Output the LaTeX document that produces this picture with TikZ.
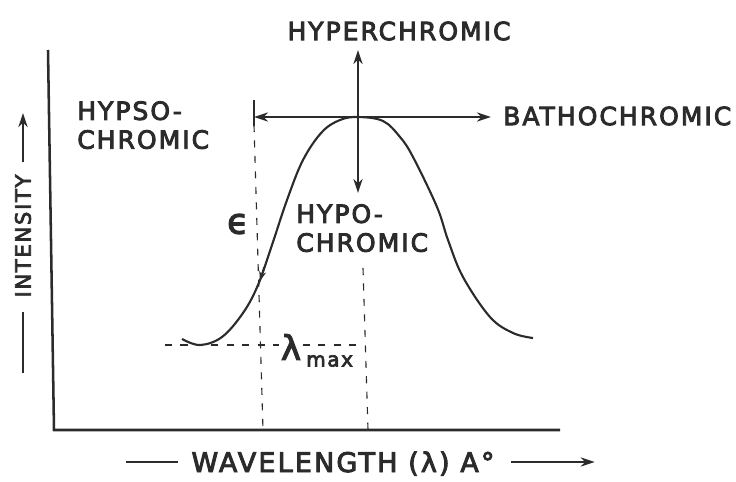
\documentclass[tikz,border=0pt]{standalone}
\usepackage{fontspec}
\setmainfont{DejaVu Sans}
\newfontfamily\lblfont[LetterSpace=8, FakeBold=3.5]{DejaVu Sans}
\usepackage{xcolor}
\usepackage{tikz}
\usetikzlibrary{arrows.meta, positioning, calc}
\definecolor{ink}{HTML}{2B2B2B}

\begin{document}
\begin{tikzpicture}[x=0.025cm, y=-0.025cm,
  lbl/.style={font=\lblfont\fontsize{17.8}{20.5}\selectfont, text=ink, inner sep=0pt, align=left},
  axis/.style={draw=ink, line width=1.8pt},
  band/.style={draw=ink, line width=1.5pt},
  shiftarrow/.style={draw=ink, line width=1.2pt, {Stealth[length=10pt, width=6.5pt]}-{Stealth[length=10pt, width=6.5pt]}},
  guide/.style={draw=ink, line width=0.8pt, dash pattern=on 5pt off 6pt},
  pointer/.style={draw=ink, line width=1.4pt, -{Stealth[length=10pt, width=6.5pt]}}]
  \useasboundingbox (0,0) rectangle (736,481);

  \coordinate (ytop) at (48,50);
  \coordinate (origin) at (54,430);
  \coordinate (xend) at (560,430);
  \draw[axis] (ytop) -- (origin) -- (xend);

  \coordinate (peak) at (358,117);
  \coordinate (hyper) at (358,50);
  \coordinate (hypo) at (358,193);
  \coordinate (hypso) at (254,117);
  \coordinate (batho) at (491,117);

  \draw[band] plot[smooth, tension=0.6] coordinates {(182,339) (200,345) (222,337) (243,313) (258,285) (272,245) (287,200) (303,160) (322,132) (340,120) (peak) (383,121) (400,137) (413,157) (437,207) (448,240) (463,277) (490,317) (513,333) (533,338)};
  \draw[draw=ink, line width=1pt, -{Stealth[length=7pt, width=5pt]}] (264,267) -- (260,281);

  \draw[shiftarrow] (hyper) -- (hypo);
  \draw[shiftarrow] (hypso) -- (batho);
  \draw[draw=ink, line width=1.2pt] (hypso) ++(0,-17) -- ++(0,26);

  \draw[guide] (254,125) -- (263,430);
  \draw[guide] (363,268) -- (368,430);

  \node[lbl] (hyperlbl) at (399,31) {HYPERCHROMIC};
  \node[lbl, anchor=west] (batholbl) at (503,116) {BATHOCHROMIC};
  \node[lbl, anchor=north west] (hypsolbl) at (77,101) {HYPSO-\\CHROMIC};
  \node[lbl, anchor=north west] (hypolbl) at (296,204) {HYPO-\\CHROMIC};
  \node[lbl, font=\lblfont\fontsize{25}{27}\selectfont] (epslbl) at (238,224) {ϵ};

  \node[font=\lblfont\fontsize{24}{26}\selectfont, text=ink, inner sep=1pt] (lam) at (291,347) {λ};
  \node[font=\lblfont\fontsize{14.2}{16}\selectfont, text=ink, inner sep=0pt, anchor=north west] (lmax) at (306,355) {max};
  \coordinate (lamin) at (165,345);
  \coordinate (lamout) at (360,345);
  \draw[guide] (lamin) -- (lamin -| lam.west);
  \draw[guide] (lam.east |- lamout) -- (lamout);

  \node[lbl, font=\lblfont\fontsize{15}{17}\selectfont, rotate=90] (intlbl) at (23,236) {INTENSITY};
  \draw[draw=ink, line width=1.3pt] ($(intlbl.west)+(0,14)$) -- (23,373);
  \draw[pointer] ($(intlbl.east)+(0,-12)$) -- (23,113);

  \node[lbl, font=\lblfont\fontsize{19.2}{21}\selectfont, anchor=base] (wavelbl) at (343,472) {WAVELENGTH (λ) A°};
  \draw[draw=ink, line width=1.3pt] ($(wavelbl.base west)+(-13,-10)$) -- ++(-52,0);
  \draw[pointer] ($(wavelbl.base east)+(16,-10)$) -- ++(84,0);
\end{tikzpicture}
\end{document}
